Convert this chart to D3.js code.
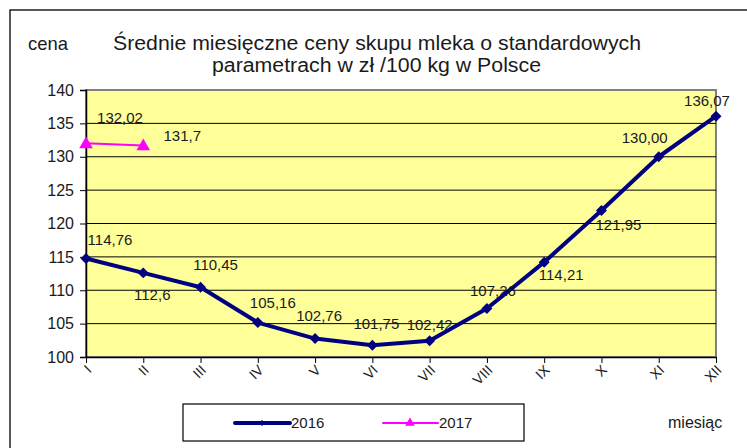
<!DOCTYPE html>
<html>
<head>
<meta charset="utf-8">
<script src="https://cdn.jsdelivr.net/npm/d3@7"></script>
<style>
  body { margin: 0; background: #fff; }
  svg text { font-family: "Liberation Sans", Arial, sans-serif; fill: #1a1a1a; }
</style>
</head>
<body>
<svg id="chart" width="747" height="448"></svg>
<script>
// chart data
const months = ['I', 'II', 'III', 'IV', 'V', 'VI', 'VII', 'VIII', 'IX', 'X', 'XI', 'XII'];
const values2016 = [114.76, 112.6, 110.45, 105.16, 102.76, 101.75, 102.42, 107.26, 114.21, 121.95, 130.00, 136.07];
const labels2016 = ['114,76', '112,6', '110,45', '105,16', '102,76', '101,75', '102,42', '107,26', '114,21', '121,95', '130,00', '136,07'];
const values2017 = [132.02, 131.7];
const labels2017 = ['132,02', '131,7'];
const yTicks = [100, 105, 110, 115, 120, 125, 130, 135, 140];

const svg = d3.select('#chart');
const plot = { left: 86, right: 716, top: 90, bottom: 357 };

const x = d3.scalePoint().domain(months).range([plot.left, plot.right]);
const y = d3.scaleLinear().domain([100, 140]).range([plot.bottom, plot.top]);

// outer frame (only top/left visible)
svg.append('rect')
    .attr('x', 10).attr('y', 10)
    .attr('width', 800).attr('height', 500)
    .attr('fill', 'none').attr('stroke', '#000').attr('stroke-width', 1.3);

// plot background
svg.append('rect')
    .attr('x', plot.left).attr('y', plot.top)
    .attr('width', plot.right - plot.left).attr('height', plot.bottom - plot.top)
    .attr('fill', '#ffff99')
    .attr('stroke', '#808080').attr('stroke-width', 2);

// grid lines
svg.append('g')
    .selectAll('line')
    .data(yTicks.filter(d => d > 100 && d < 140))
    .join('line')
    .attr('x1', plot.left).attr('x2', plot.right)
    .attr('y1', d => y(d)).attr('y2', d => y(d))
    .attr('stroke', '#000').attr('stroke-width', 1);

// y axis
const yAxis = svg.append('g')
    .attr('transform', `translate(${plot.left},0)`)
    .call(d3.axisLeft(y).tickValues(yTicks).tickSize(6).tickPadding(6));
yAxis.select('.domain').attr('stroke', '#000').attr('stroke-width', 1.5);
yAxis.selectAll('.tick line').attr('stroke', '#000');
yAxis.selectAll('.tick text')
    .attr('font-size', 16).attr('font-family', '"Liberation Sans", Arial, sans-serif')
    .attr('fill', '#1a1a1a');

// x axis
const xAxis = svg.append('g')
    .attr('transform', `translate(0,${plot.bottom})`)
    .call(d3.axisBottom(x).tickSize(6).tickSizeOuter(0));
xAxis.select('.domain').attr('stroke', '#000').attr('stroke-width', 1.5);
xAxis.selectAll('.tick line').attr('stroke', '#000');
xAxis.selectAll('.tick text')
    .attr('font-size', 14).attr('font-family', '"Liberation Sans", Arial, sans-serif')
    .attr('fill', '#1a1a1a')
    .attr('text-anchor', 'end')
    .attr('dy', 0).attr('y', 0)
    .attr('transform', 'translate(6,14) rotate(-45)');

// lines
const line = d3.line().x((d, i) => x(months[i])).y(d => y(d));

svg.append('path')
    .datum(values2016)
    .attr('d', line)
    .attr('fill', 'none').attr('stroke', '#000080').attr('stroke-width', 4)
    .attr('stroke-linejoin', 'round');

// square markers turned 45 degrees -> even diamonds
svg.append('g')
    .selectAll('path')
    .data(values2016)
    .join('path')
    .attr('transform', (d, i) => `translate(${x(months[i])},${y(d)}) rotate(45)`)
    .attr('d', d3.symbol(d3.symbolSquare, 60))
    .attr('fill', '#000080');

svg.append('path')
    .datum(values2017)
    .attr('d', line)
    .attr('fill', 'none').attr('stroke', '#ff00ff').attr('stroke-width', 2);

svg.append('g')
    .selectAll('path')
    .data(values2017)
    .join('path')
    .attr('transform', (d, i) => `translate(${x(months[i])},${y(d) + 1})`)
    .attr('d', d3.symbol(d3.symbolTriangle, 80))
    .attr('fill', '#ff00ff');

// data labels: [dx, dy] offsets from each point to the label centre/baseline
const offs2016 = [[24, -13], [9, 27], [15, -17], [15, -15], [4, -18], [4, -16], [0, -11], [6, -13], [17, 18], [17, 20], [-14, -14], [-9, -10]];
const offs2017 = [[34, -20], [39, -4]];

svg.append('g')
    .selectAll('text')
    .data(values2016)
    .join('text')
    .attr('x', (d, i) => x(months[i]) + offs2016[i][0])
    .attr('y', (d, i) => y(d) + offs2016[i][1])
    .attr('text-anchor', 'middle')
    .attr('font-size', 15)
    .text((d, i) => labels2016[i]);

svg.append('g')
    .selectAll('text')
    .data(values2017)
    .join('text')
    .attr('x', (d, i) => x(months[i]) + offs2017[i][0])
    .attr('y', (d, i) => y(d) + offs2017[i][1])
    .attr('text-anchor', 'middle')
    .attr('font-size', 15)
    .text((d, i) => labels2017[i]);

// title & axis titles
svg.append('text')
    .attr('x', 28).attr('y', 50)
    .attr('font-size', 19)
    .attr('textLength', 40).attr('lengthAdjust', 'spacingAndGlyphs')
    .text('cena');

svg.append('text')
    .attr('x', 113).attr('y', 50)
    .attr('font-size', 20)
    .attr('textLength', 528).attr('lengthAdjust', 'spacingAndGlyphs')
    .text('Średnie miesięczne ceny skupu mleka o standardowych');

svg.append('text')
    .attr('x', 212).attr('y', 72)
    .attr('font-size', 20)
    .attr('textLength', 329).attr('lengthAdjust', 'spacingAndGlyphs')
    .text('parametrach w zł /100 kg w Polsce');

svg.append('text')
    .attr('x', 668).attr('y', 428)
    .attr('font-size', 16)
    .text('miesiąc');

// legend
const legend = svg.append('g');
legend.append('rect')
    .attr('x', 183).attr('y', 404)
    .attr('width', 341).attr('height', 37)
    .attr('fill', '#fff').attr('stroke', '#000').attr('stroke-width', 1.2);

const legendItems = [
    { name: '2016', color: '#000080', width: 4, symbol: d3.symbolSquare, size: 18, rot: 45, x: 235 },
    { name: '2017', color: '#ff00ff', width: 2, symbol: d3.symbolTriangle, size: 40, rot: 0, x: 383 }
];
legendItems.forEach(it => {
    legend.append('line')
        .attr('x1', it.x).attr('x2', it.x + 55)
        .attr('y1', 423).attr('y2', 423)
        .attr('stroke', it.color).attr('stroke-width', it.width)
        .attr('stroke-linecap', 'round');
    legend.append('path')
        .attr('transform', `translate(${it.x + 27},423) rotate(${it.rot})`)
        .attr('d', d3.symbol(it.symbol, it.size))
        .attr('fill', it.color);
    legend.append('text')
        .attr('x', it.x + 56).attr('y', 428)
        .attr('font-size', 15)
        .text(it.name);
});
</script>
</body>
</html>
